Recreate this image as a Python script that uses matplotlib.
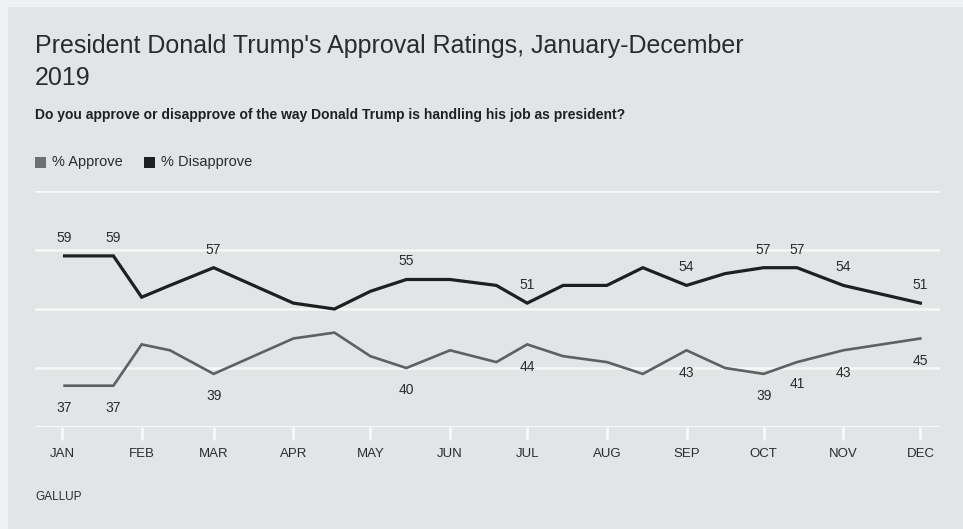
import matplotlib
matplotlib.use("Agg")
import matplotlib.pyplot as plt
import matplotlib.dates as mdates
from matplotlib.patches import Rectangle
import pandas as pd

# Gallup poll start dates, 2019
poll_dates = ["2019-01-02", "2019-01-21", "2019-02-01", "2019-02-12", "2019-03-01",
              "2019-04-01", "2019-04-17", "2019-05-01", "2019-05-15", "2019-06-01",
              "2019-06-19", "2019-07-01", "2019-07-15", "2019-08-01", "2019-08-15",
              "2019-09-01", "2019-09-16", "2019-10-01", "2019-10-14", "2019-11-01",
              "2019-12-01"]
approve = [37, 37, 44, 43, 39, 45, 46, 42, 40, 43, 41, 44, 42, 41, 39, 43, 40, 39, 41, 43, 45]
disapprove = [59, 59, 52, 54, 57, 51, 50, 53, 55, 55, 54, 51, 54, 54, 57, 54, 56, 57, 57, 54, 51]
labelled = [0, 1, 4, 8, 11, 15, 17, 18, 19, 20]
month_labels = ["JAN", "FEB", "MAR", "APR", "MAY", "JUN", "JUL", "AUG", "SEP", "OCT", "NOV", "DEC"]

title_lines = ["President Donald Trump's Approval Ratings, January-December", "2019"]
subtitle = "Do you approve or disapprove of the way Donald Trump is handling his job as president?"

dates = pd.to_datetime(poll_dates)
month_starts = pd.date_range("2019-01-01", "2019-12-01", freq="MS")

BG = "#e2e4e6"
APPROVE_C = "#5f6062"
DISAPPROVE_C = "#1e1f21"
TEXT_C = "#2a2b2d"
FONT = "Liberation Sans"

W, H = 963, 529
fig = plt.figure(figsize=(W / 100, H / 100), dpi=100)
fig.patch.set_facecolor("#eef0f1")
fig.patches.append(Rectangle((8 / W, 0), 1, 1 - 7 / H, transform=fig.transFigure,
                             facecolor=BG, edgecolor="none", zorder=-10))

ax = fig.add_axes([35 / W, 1 - 427 / H, 905 / W, 236 / H])
ax.set_facecolor("none")
for s in ax.spines.values():
    s.set_visible(False)

x0 = mdates.date2num(pd.Timestamp("2019-01-01"))
px_per_day = 2.57
ax.set_xlim(x0 + (35 - 62) / px_per_day, x0 + (940 - 62) / px_per_day)
ax.set_ylim(30, 70)

for yv in [40, 50, 60, 70]:
    ax.axhline(yv, color="#f7f8f8", lw=1.8, zorder=1)
ax.axhline(30, color="#f7f8f8", lw=2.2, zorder=1)

ax.set_xticks(mdates.date2num(month_starts))
ax.set_xticklabels(month_labels)
ax.tick_params(axis="x", direction="out", length=9, width=2, color="#f7f8f8",
               pad=6, labelsize=9.5, labelcolor=TEXT_C)
for t in ax.get_xticklabels():
    t.set_fontfamily(FONT)
ax.set_yticks([])

ax.plot(dates, approve, color=APPROVE_C, lw=1.9, zorder=3, solid_joinstyle="miter")
ax.plot(dates, disapprove, color=DISAPPROVE_C, lw=2.3, zorder=4, solid_joinstyle="miter")

for i in labelled:
    ax.annotate(str(disapprove[i]), (dates[i], disapprove[i]), xytext=(0, 13),
                textcoords="offset points", ha="center", va="center",
                fontsize=10, color=TEXT_C, family=FONT)
    ax.annotate(str(approve[i]), (dates[i], approve[i]), xytext=(0, -16),
                textcoords="offset points", ha="center", va="center",
                fontsize=10, color=TEXT_C, family=FONT)

fig.text(35 / W, 1 - 53 / H, title_lines[0], fontsize=18, color=TEXT_C,
         family=FONT, va="baseline", ha="left")
fig.text(35 / W, 1 - 85 / H, title_lines[1], fontsize=18, color=TEXT_C,
         family=FONT, va="baseline", ha="left")
fig.text(35 / W, 1 - 119 / H, subtitle, fontsize=10, color="#1f2022",
         family=FONT, weight="bold", va="baseline", ha="left")

# legend
fig.patches.append(Rectangle((35 / W, 1 - 168 / H), 11 / W, 11 / H, transform=fig.transFigure,
                             facecolor="#6e6f71", edgecolor="none"))
fig.text(52 / W, 1 - 162.5 / H, "% Approve", fontsize=10.5, color=TEXT_C,
         family=FONT, va="center", ha="left")
fig.patches.append(Rectangle((144 / W, 1 - 168 / H), 11 / W, 11 / H, transform=fig.transFigure,
                             facecolor="#1e1f21", edgecolor="none"))
fig.text(161 / W, 1 - 162.5 / H, "% Disapprove", fontsize=10.5, color=TEXT_C,
         family=FONT, va="center", ha="left")

fig.text(35 / W, 1 - 497 / H, "GALLUP", fontsize=8.5, color=TEXT_C,
         family=FONT, va="center", ha="left")

fig.savefig("out.png", dpi=100, facecolor=fig.get_facecolor())
